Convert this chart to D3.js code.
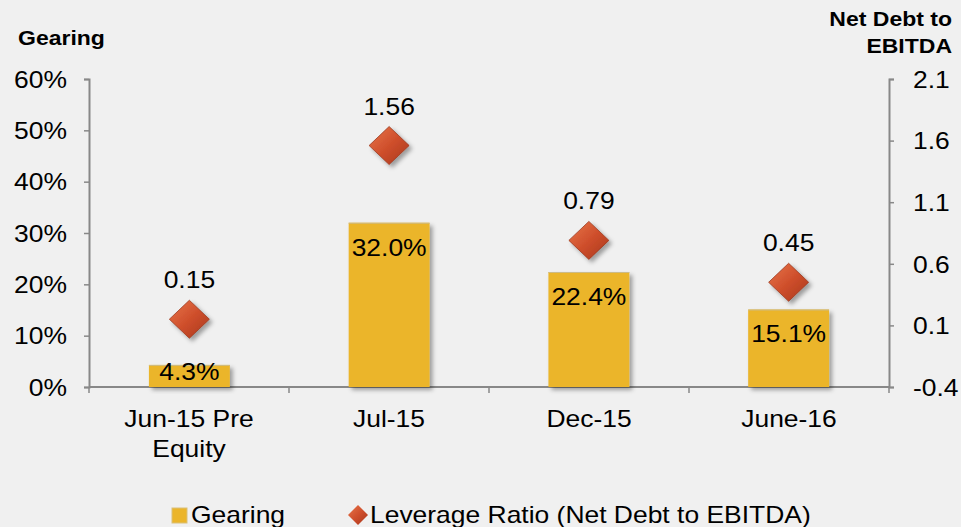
<!DOCTYPE html>
<html>
<head>
<meta charset="utf-8">
<script src="https://cdn.jsdelivr.net/npm/d3@7"></script>
<style>
  body { margin: 0; background: #fff; }
  svg { font-family: "Liberation Sans", Arial, sans-serif; }
</style>
</head>
<body>
<div id="chart"></div>
<script>
// chart data
var categories = [["Jun-15 Pre", "Equity"], ["Jul-15"], ["Dec-15"], ["June-16"]];
var gearing = [0.043, 0.320, 0.224, 0.151];
var leverage = [0.15, 1.56, 0.79, 0.45];
var leftTicks = [0, 0.1, 0.2, 0.3, 0.4, 0.5, 0.6];
var rightTicks = [-0.4, 0.1, 0.6, 1.1, 1.6, 2.1];
var legendLabels = ["Gearing", "Leverage Ratio (Net Debt to EBITDA)"];

var svgWidth = 973;
var svgHeight = 527;
var margin = { top: 79, right: 84, bottom: 140, left: 89 };
var width = svgWidth - margin.left - margin.right;
var height = svgHeight - margin.top - margin.bottom;

// text in the source is stretched a bit wider than the font
var stretch = 1.15;
var fontSize = "23px";
var titleSize = "20px";
var axisColor = "#888";
var barColor = "#ebb52b";

var svg = d3.select("#chart")
  .append("svg")
  .attr("width", svgWidth)
  .attr("height", svgHeight);

// background panel
svg.append("rect")
  .attr("width", 961)
  .attr("height", svgHeight)
  .attr("fill", "#f0f0f0");

var defs = svg.append("defs");
defs.append("filter")
  .attr("id", "shadow")
  .attr("x", "-30%").attr("y", "-30%")
  .attr("width", "160%").attr("height", "160%")
  .append("feDropShadow")
  .attr("dx", 3).attr("dy", 3)
  .attr("stdDeviation", 2)
  .attr("flood-color", "#000")
  .attr("flood-opacity", 0.35);

var grad = defs.append("linearGradient")
  .attr("id", "diamondGrad")
  .attr("x1", "0").attr("y1", "0")
  .attr("x2", "1").attr("y2", "1");
grad.append("stop").attr("offset", "0%").attr("stop-color", "#e8764a");
grad.append("stop").attr("offset", "50%").attr("stop-color", "#cf4f2c");
grad.append("stop").attr("offset", "100%").attr("stop-color", "#a8361c");

// helper: place a text at x,y and stretch it horizontally
function placeText(sel, x, y) {
  sel.attr("x", null).attr("y", null)
    .attr("transform", `translate(${x}, ${y}) scale(${stretch}, 1)`);
  return sel;
}

var chartGroup = svg.append("g")
  .attr("transform", `translate(${margin.left}, ${margin.top})`);

// scales
var xScale = d3.scaleBand()
  .domain(d3.range(categories.length))
  .range([0, width])
  .paddingInner(0.595)
  .paddingOuter(0.3);

var yLeft = d3.scaleLinear()
  .domain([0, 0.6])
  .range([height, 0]);

var yRight = d3.scaleLinear()
  .domain([-0.4, 2.1])
  .range([height, 0]);

// axes
var leftAxis = d3.axisLeft(yLeft)
  .tickValues(leftTicks)
  .tickFormat(d3.format(".0%"))
  .tickSize(5);

var rightAxis = d3.axisRight(yRight)
  .tickValues(rightTicks)
  .tickFormat(d => d3.format(".1f")(d).replace("\u2212", "-"))
  .tickSize(5);

var leftG = chartGroup.append("g").call(leftAxis);
var rightG = chartGroup.append("g")
  .attr("transform", `translate(${width}, 0)`)
  .call(rightAxis);

[leftG, rightG].forEach(function (g) {
  g.select(".domain").attr("stroke", axisColor).attr("stroke-width", 2);
  g.selectAll(".tick line").attr("stroke", axisColor).attr("stroke-width", 1.5);
  g.selectAll(".tick text")
    .attr("fill", "#000")
    .attr("dy", "0.36em")
    .style("font-size", fontSize)
    .style("font-family", "Liberation Sans, Arial, sans-serif");
});
leftG.selectAll(".tick text").each(function () { placeText(d3.select(this), -22, 0); });
rightG.selectAll(".tick text").each(function () { placeText(d3.select(this), 24, 0); });

// bottom axis line with boundary ticks
var step = width / categories.length;
var bottomG = chartGroup.append("g").attr("transform", `translate(0, ${height})`);
bottomG.append("line")
  .attr("x1", 0).attr("x2", width)
  .attr("stroke", axisColor).attr("stroke-width", 2);
bottomG.selectAll(".btick")
  .data(d3.range(categories.length + 1))
  .enter()
  .append("line")
  .attr("x1", d => d * step).attr("x2", d => d * step)
  .attr("y1", 0).attr("y2", 6)
  .attr("stroke", axisColor).attr("stroke-width", 1.5);

// category labels
var catLabels = bottomG.selectAll(".cat")
  .data(categories)
  .enter()
  .append("text")
  .attr("text-anchor", "middle")
  .attr("transform", (d, i) => `translate(${i * step + step / 2}, 40) scale(${stretch}, 1)`)
  .style("font-size", fontSize);
catLabels.selectAll("tspan")
  .data(d => d)
  .enter()
  .append("tspan")
  .attr("x", 0)
  .attr("dy", (d, i) => i === 0 ? 0 : 30)
  .text(d => d);

// bars
chartGroup.selectAll(".bar")
  .data(gearing)
  .enter()
  .append("rect")
  .attr("x", (d, i) => xScale(i))
  .attr("y", d => yLeft(d))
  .attr("width", xScale.bandwidth())
  .attr("height", d => height - yLeft(d))
  .attr("fill", barColor)
  .attr("filter", "url(#shadow)");

chartGroup.selectAll(".barTop")
  .data(gearing)
  .enter()
  .append("line")
  .attr("x1", (d, i) => xScale(i))
  .attr("x2", (d, i) => xScale(i) + xScale.bandwidth())
  .attr("y1", d => yLeft(d) + 0.5)
  .attr("y2", d => yLeft(d) + 0.5)
  .attr("stroke", "#cdbb86")
  .attr("stroke-width", 1);

chartGroup.selectAll(".barLabel")
  .data(gearing)
  .enter()
  .append("text")
  .attr("text-anchor", "middle")
  .style("font-size", fontSize)
  .text(d => d3.format(".1%")(d))
  .each(function (d, i) {
    var y = Math.min(yLeft(d) + 33, (yLeft(d) + height) / 2 + 4);
    placeText(d3.select(this), xScale(i) + xScale.bandwidth() / 2, y);
  });

// diamonds
var dSize = 20;
chartGroup.selectAll(".diamond")
  .data(leverage)
  .enter()
  .append("path")
  .attr("d", `M0,${-dSize + 1}L${dSize},0L0,${dSize - 1}L${-dSize},0Z`)
  .attr("transform", (d, i) => `translate(${xScale(i) + xScale.bandwidth() / 2}, ${yRight(d)})`)
  .attr("fill", "url(#diamondGrad)")
  .attr("stroke", "#9c3a20")
  .attr("stroke-width", 0.8)
  .attr("filter", "url(#shadow)");

chartGroup.selectAll(".levLabel")
  .data(leverage)
  .enter()
  .append("text")
  .attr("text-anchor", "middle")
  .style("font-size", fontSize)
  .text(d => d3.format(".2f")(d))
  .each(function (d, i) {
    placeText(d3.select(this), xScale(i) + xScale.bandwidth() / 2, yRight(d) - 31);
  });

// axis titles
svg.append("text")
  .attr("transform", `translate(18, 45) scale(${stretch}, 1)`)
  .style("font-size", titleSize).style("font-weight", "bold")
  .text("Gearing");
var rTitle = svg.append("text")
  .attr("text-anchor", "end")
  .attr("transform", `translate(952, 0) scale(${stretch}, 1)`)
  .style("font-size", titleSize).style("font-weight", "bold");
rTitle.append("tspan").attr("x", 0).attr("y", 26).text("Net Debt to");
rTitle.append("tspan").attr("x", 0).attr("y", 53).text("EBITDA");

// legend
var legend = svg.append("g").attr("transform", "translate(0, 515)");
legend.append("rect")
  .attr("x", 172).attr("y", -7).attr("width", 15).attr("height", 15)
  .attr("fill", barColor)
  .attr("stroke", "#d9c07a")
  .attr("stroke-width", 1);
legend.append("text")
  .attr("transform", `translate(191, 8) scale(${stretch}, 1)`)
  .style("font-size", fontSize)
  .text(legendLabels[0]);
legend.append("path")
  .attr("d", "M0,-10L10,0L0,10L-10,0Z")
  .attr("transform", "translate(358, 0)")
  .attr("fill", "url(#diamondGrad)");
legend.append("text")
  .attr("transform", `translate(370, 8) scale(${stretch}, 1)`)
  .style("font-size", fontSize)
  .text(legendLabels[1]);
</script>
</body>
</html>
